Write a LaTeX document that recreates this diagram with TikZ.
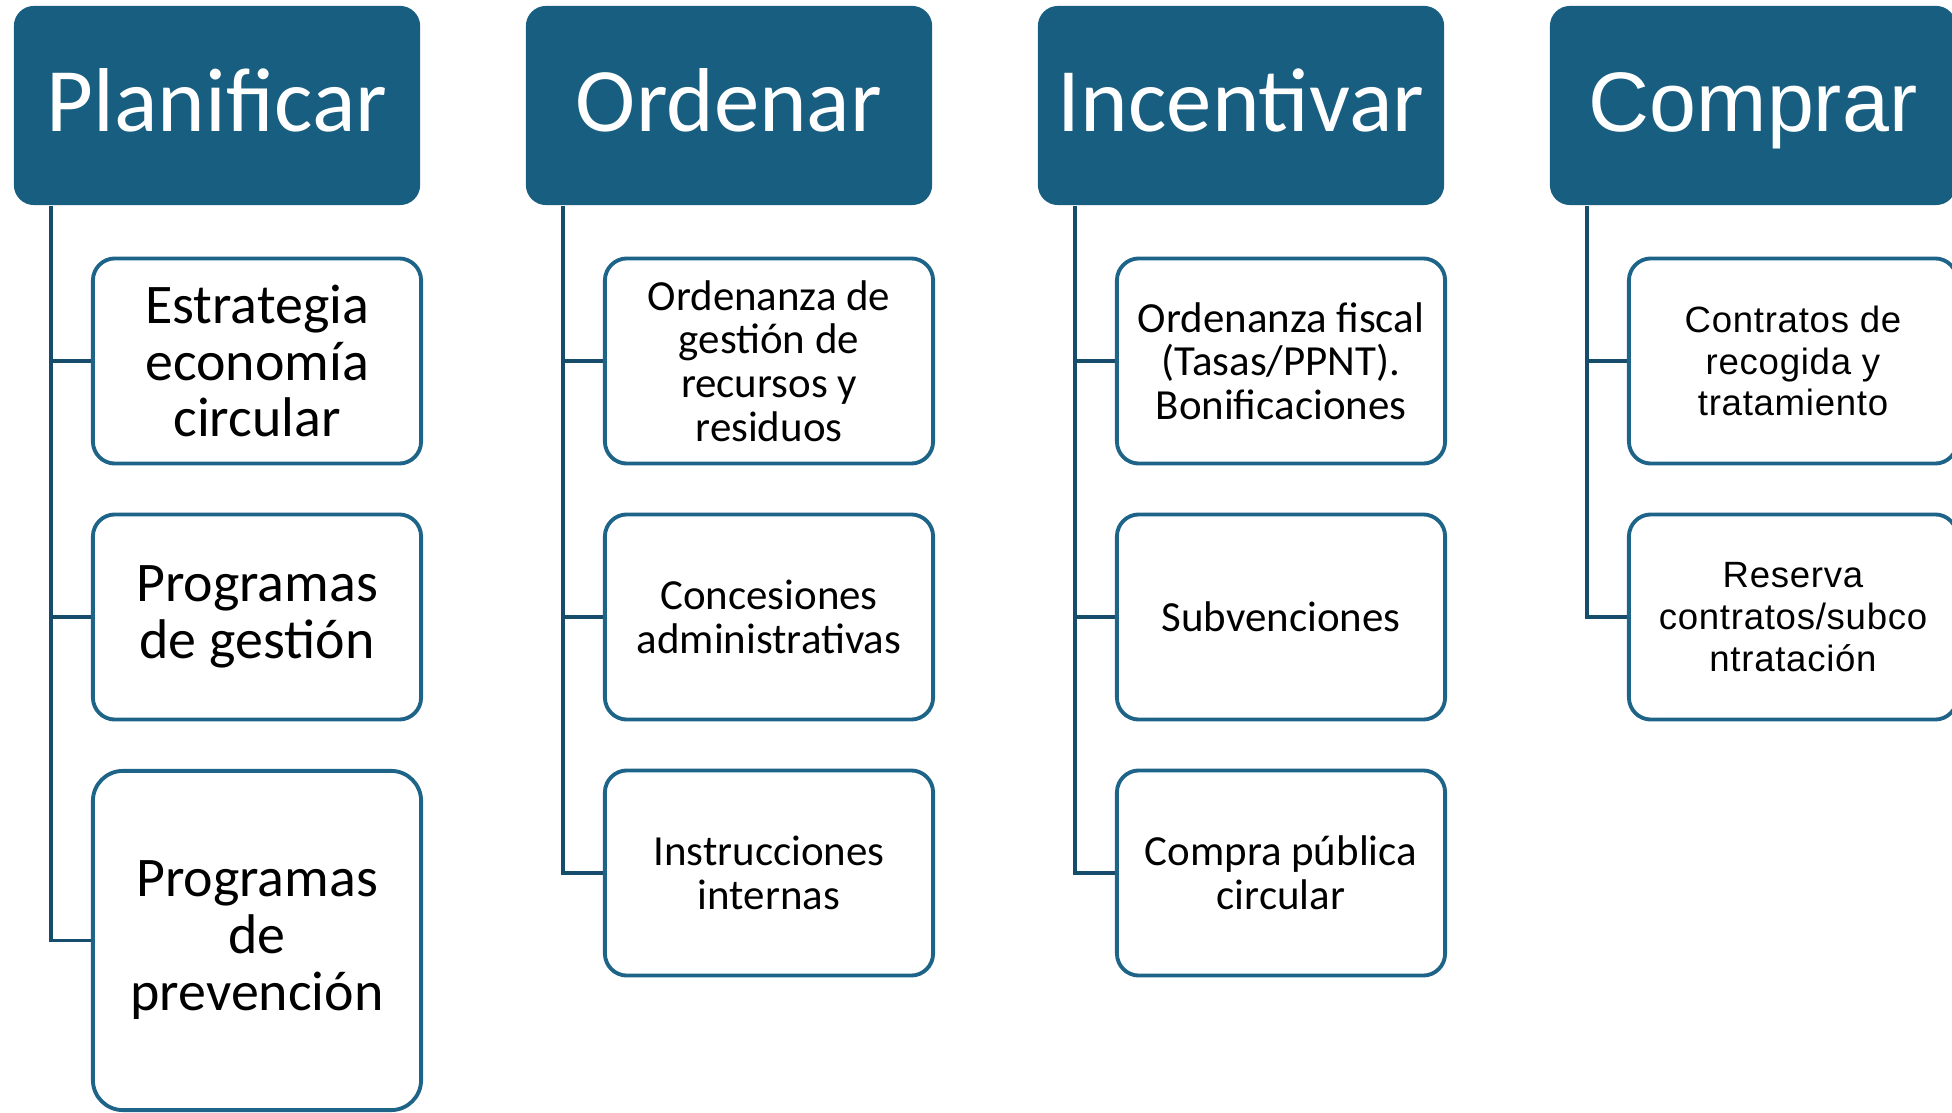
\documentclass[tikz,border=0pt]{standalone}
\usepackage{fontspec}
\setmainfont{Carlito}
\newfontfamily\comprafont{Liberation Sans}
\newfontfamily\comprasub[LetterSpace=2]{Liberation Sans}
\definecolor{hdrblue}{RGB}{24,94,128}
\definecolor{boxblue}{RGB}{30,100,136}
\definecolor{linkblue}{RGB}{22,76,108}
\begin{document}
\begin{tikzpicture}[x=0.01cm, y=-0.01cm,
  hdr/.style={rectangle, rounded corners=0.2cm, fill=hdrblue, text=white, minimum width=4.06cm, minimum height=1.99cm, inner sep=0pt, text height=17pt, text depth=2pt, font=\fontsize{25.8}{26}\selectfont},
  item/.style={rectangle, rounded corners=0.22cm, draw=boxblue, line width=1.1pt, fill=white, minimum width=3.28cm, minimum height=2.05cm, inner sep=0pt, align=center, font=\fontsize{12.2}{12.4}\selectfont},
  bigitem/.style={item, font=\fontsize{15.9}{16.2}\selectfont},
  compitem/.style={item, font=\comprasub\fontsize{10.4}{11.9}\selectfont},
  link/.style={draw=linkblue, line width=1.05pt}]
\useasboundingbox (0,0) rectangle (1952,1113);
% headers
\node[hdr] (plan) at (217,105.5){Planificar};
\node[hdr] (orden) at (729,105.5){Ordenar};
\node[hdr] (incent) at (1241,105.5){Incentivar};
\node[hdr, font=\comprafont\fontsize{24}{24}\selectfont] (compra) at (1753,105.5){Comprar};
% planificar
\node[bigitem] (plan1) at (257,361){Estrategia\\economía\\circular};
\node[bigitem] (plan2) at (257,617){Programas\\de gestión};
\node[bigitem, minimum height=3.39cm, rounded corners=0.3cm] (plan3) at (257,940.5){Programas\\de\\prevención};
% ordenar
\node[item] (orden1) at (769,361){Ordenanza de\\gestión de\\recursos y\\residuos};
\node[item] (orden2) at (769,617){Concesiones\\administrativas};
\node[item] (orden3) at (769,873){Instrucciones\\internas};
% incentivar
\node[item] (incent1) at (1281,361){Ordenanza fiscal\\(Tasas/PPNT).\\Bonificaciones};
\node[item] (incent2) at (1281,617){Subvenciones};
\node[item] (incent3) at (1281,873){Compra pública\\circular};
% comprar
\node[compitem] (compra1) at (1793,361){Contratos de\\recogida y\\tratamiento};
\node[compitem] (compra2) at (1793,617){Reserva\\contratos/subco\\ntratación};
% links
\draw[link] ([xshift=0.38cm]plan.south west) |- (plan1.west);
\draw[link] ([xshift=0.38cm]plan.south west) |- (plan2.west);
\draw[link] ([xshift=0.38cm]plan.south west) |- (plan3.west);
\draw[link] ([xshift=0.38cm]orden.south west) |- (orden1.west);
\draw[link] ([xshift=0.38cm]orden.south west) |- (orden2.west);
\draw[link] ([xshift=0.38cm]orden.south west) |- (orden3.west);
\draw[link] ([xshift=0.38cm]incent.south west) |- (incent1.west);
\draw[link] ([xshift=0.38cm]incent.south west) |- (incent2.west);
\draw[link] ([xshift=0.38cm]incent.south west) |- (incent3.west);
\draw[link] ([xshift=0.38cm]compra.south west) |- (compra1.west);
\draw[link] ([xshift=0.38cm]compra.south west) |- (compra2.west);
\end{tikzpicture}
\end{document}
